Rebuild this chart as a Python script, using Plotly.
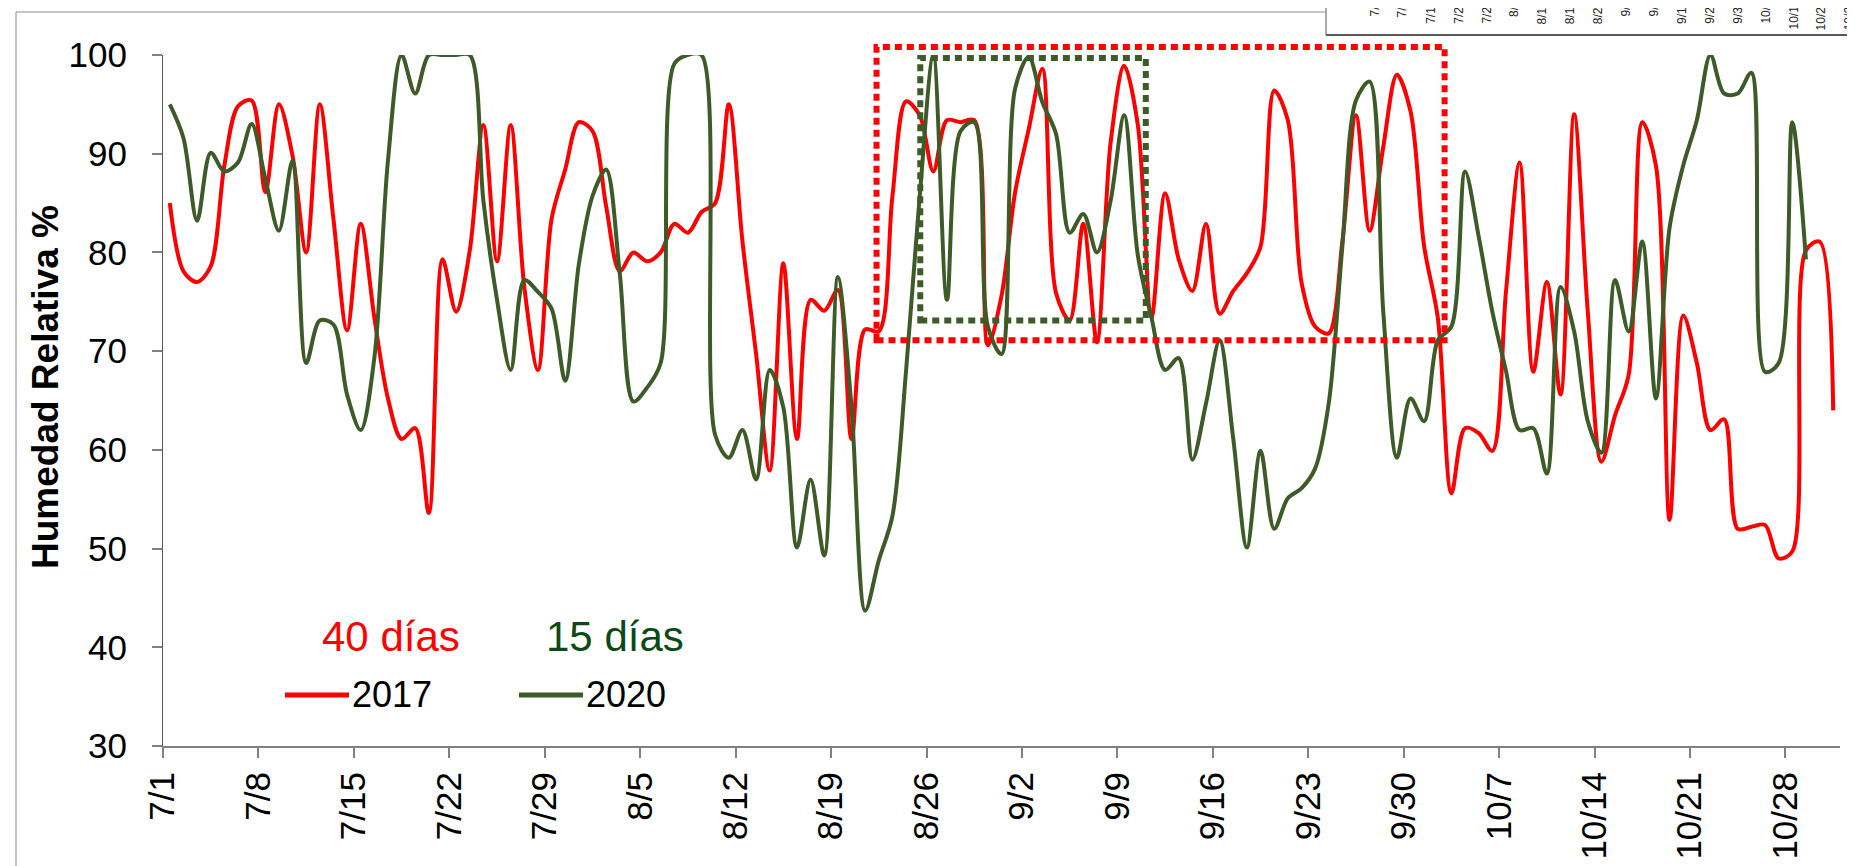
import pandas as pd
import plotly.graph_objects as go

# daily relative humidity, 1 Jul -> 31 Oct (2017) and 1 Jul -> 29 Oct (2020)
rh_2017 = [85.0, 78.1, 77.0, 78.6, 88.8, 94.8, 95.4, 86.1, 95.0, 89.8,
           80.0, 95.0, 83.4, 72.1, 82.9, 73.4, 65.2, 61.1, 62.2, 53.6,
           79.3, 74.0, 80.2, 92.9, 79.1, 92.9, 76.5, 68.1, 83.4, 88.4,
           93.2, 92.3, 84.7, 78.1, 80.0, 79.1, 80.0, 82.9, 82.0, 84.1,
           85.0, 95.0, 81.1, 69.7, 57.9, 78.9, 61.1, 75.2, 74.1, 76.2,
           61.1, 72.2, 72.0, 85.7, 95.3, 93.9, 88.2, 93.4, 93.2, 93.4,
           70.6, 75.6, 86.1, 92.5, 98.6, 75.9, 73.1, 82.9, 70.9, 91.1,
           98.9, 92.9, 73.4, 86.0, 79.3, 76.1, 82.9, 73.8, 76.1, 77.9,
           80.6, 96.4, 93.4, 77.0, 72.5, 71.8, 81.1, 93.9, 82.2, 90.7,
           98.0, 94.3, 80.6, 73.4, 55.6, 62.2, 61.7, 59.9, 76.0, 89.1,
           67.9, 77.0, 65.6, 94.0, 74.0, 58.8, 63.5, 67.6, 93.2, 88.8,
           52.9, 73.6, 68.8, 62.0, 63.1, 52.0, 52.2, 52.4, 49.0, 49.7,
           80.2, 81.1, 64.0]
rh_2020 = [95.0, 91.6, 83.2, 90.1, 88.2, 89.1, 93.0, 87.5, 82.2, 89.3,
           68.8, 73.1, 72.7, 65.6, 62.0, 69.3, 89.3, 100, 96.1, 100,
           100, 100, 100, 85.2, 75.2, 68.1, 77.2, 76.0, 74.3, 67.0,
           78.8, 85.7, 88.4, 77.9, 64.9, 66.3, 68.8, 99.1, 100, 100,
           61.5, 59.2, 62.0, 57.0, 68.1, 64.3, 50.1, 57.0, 49.3, 77.5,
           64.3, 43.7, 48.8, 53.3, 68.0, 85.7, 100, 75.2, 92.3, 93.2,
           72.5, 69.7, 96.6, 99.8, 95.2, 92.0, 82.0, 83.9, 80.0, 85.2,
           93.9, 79.7, 73.4, 68.1, 69.3, 59.0, 64.7, 71.1, 61.1, 50.1,
           59.9, 52.0, 55.1, 56.1, 58.1, 64.7, 80.6, 95.4, 97.3, 74.0,
           59.2, 65.2, 62.9, 71.1, 72.5, 88.2, 81.6, 74.0, 68.0, 62.0,
           62.2, 57.6, 76.5, 72.0, 62.9, 59.7, 77.2, 72.0, 81.1, 65.2,
           82.5, 88.8, 93.4, 100, 96.1, 96.1, 98.2, 67.9, 68.8, 93.2,
           79.3]

series_names = ["2017", "2020"]
period_labels = ["40 días", "15 días"]
y_title = "Humedad Relativa %"

# highlighted windows: (start, end, low, high)
box_2017 = ("2017-08-22 08:00", "2017-10-03 00:00", 71.1, 100.8)
box_2020 = ("2017-08-25 13:00", "2017-09-11 02:00", 73.1, 99.7)

RED = "#FF0000"
GREEN = "#3D5B27"
DARK_GREEN = "#0B4A14"
FONT = "Arial, Liberation Sans, sans-serif"

W, H = 1855, 866
L, R, T, B = 155, 23, 47, 128
PW, PH = W - L - R, H - T - B

x_start = pd.Timestamp("2017-07-01")
x_end = pd.Timestamp("2017-11-01")
y_lo, y_hi = 30, 100


def day_axis(values):
    return [x_start + pd.Timedelta(days=i, hours=12) for i in range(len(values))]


def date_to_paper(d):
    return (pd.Timestamp(d) - x_start) / (x_end - x_start)


def val_to_paper(v):
    return (v - y_lo) / (y_hi - y_lo)


def px_x(p):
    return (p - L) / PW


def px_y(p):
    return (H - B - p) / PH


fig = go.Figure()
fig.add_scatter(x=day_axis(rh_2017), y=rh_2017, name=series_names[0], mode="lines",
                line=dict(color=RED, width=4, shape="spline", smoothing=0.9))
fig.add_scatter(x=day_axis(rh_2020), y=rh_2020, name=series_names[1], mode="lines",
                line=dict(color=GREEN, width=4, shape="spline", smoothing=0.9))

tickvals = pd.date_range("2017-07-01", "2017-10-28", freq="7D")
ticktext = [f"{d.month}/{d.day}" for d in tickvals]

fig.update_layout(
    width=W, height=H,
    margin=dict(l=L, r=R, t=T, b=B),
    paper_bgcolor="white", plot_bgcolor="white",
    showlegend=False,
    font=dict(family=FONT, color="black"),
    xaxis=dict(range=[x_start, x_end], tickvals=tickvals, ticktext=ticktext,
               tickangle=-90, tickfont=dict(size=35), ticks="outside", ticklen=10,
               tickcolor="#808080", tickwidth=1.5, showline=True, linecolor="#808080",
               linewidth=2, showgrid=False, zeroline=False),
    yaxis=dict(range=[y_lo, y_hi], dtick=10, tickfont=dict(size=35), ticks="outside",
               ticklen=10, tickcolor="#808080", tickwidth=1.5, showline=True,
               linecolor="#595959", linewidth=1, showgrid=False, zeroline=False,
               ticklabelstandoff=18),
)

shapes = []
for (x0, x1, lo, hi), color in [(box_2017, RED), (box_2020, GREEN)]:
    shapes.append(dict(type="rect", xref="paper", yref="paper",
                       x0=date_to_paper(x0), x1=date_to_paper(x1),
                       y0=val_to_paper(lo), y1=val_to_paper(hi),
                       line=dict(color=color, width=6, dash="7px,5px"), layer="above"))

# chart-area border
shapes.append(dict(type="rect", xref="paper", yref="paper", x0=px_x(8), x1=px_x(1880),
                   y0=px_y(900), y1=px_y(4), line=dict(color="#8c8c8c", width=1)))
# corner of the neighbouring chart pasted on top
shapes.append(dict(type="rect", xref="paper", yref="paper", x0=px_x(1318), x1=px_x(1880),
                   y0=px_y(27), y1=px_y(-10), fillcolor="white", line=dict(width=0)))
shapes.append(dict(type="line", xref="paper", yref="paper", x0=px_x(1318), x1=px_x(1318),
                   y0=px_y(27), y1=px_y(-5), line=dict(color="#8c8c8c", width=1.5)))
shapes.append(dict(type="line", xref="paper", yref="paper", x0=px_x(1318), x1=px_x(1880),
                   y0=px_y(27), y1=px_y(27), line=dict(color="#595959", width=2)))

# legend samples
for x0, color in [(277, RED), (511, GREEN)]:
    shapes.append(dict(type="line", xref="paper", yref="paper", x0=px_x(x0), x1=px_x(x0 + 64),
                       y0=px_y(687), y1=px_y(687), line=dict(color=color, width=5)))
fig.update_layout(shapes=shapes)

annotations = [
    dict(text=period_labels[0], x=px_x(383), y=px_y(628), font=dict(size=42, color=RED)),
    dict(text=period_labels[1], x=px_x(607), y=px_y(628), font=dict(size=42, color=DARK_GREEN)),
    dict(text=series_names[0], x=px_x(342), y=px_y(686), xanchor="left", font=dict(size=36)),
    dict(text=series_names[1], x=px_x(576), y=px_y(686), xanchor="left", font=dict(size=36)),
    dict(text=f"<b>{y_title}</b>", x=px_x(38), y=px_y(379), textangle=-90,
         font=dict(size=37)),
]
for a in annotations:
    a.update(xref="paper", yref="paper", showarrow=False)
    a.setdefault("xanchor", "center")
    a.setdefault("yanchor", "middle")

# clipped tick labels of the neighbouring chart
for i, lab in enumerate(ticktext):
    annotations.append(dict(text=lab, x=px_x(1367 + 27.9 * i), y=px_y(-10), xref="paper",
                            yref="paper", showarrow=False, textangle=-90, xanchor="center",
                            yanchor="top", font=dict(size=12, color="#222222")))
fig.update_layout(annotations=annotations)

fig.write_html("out.html")
